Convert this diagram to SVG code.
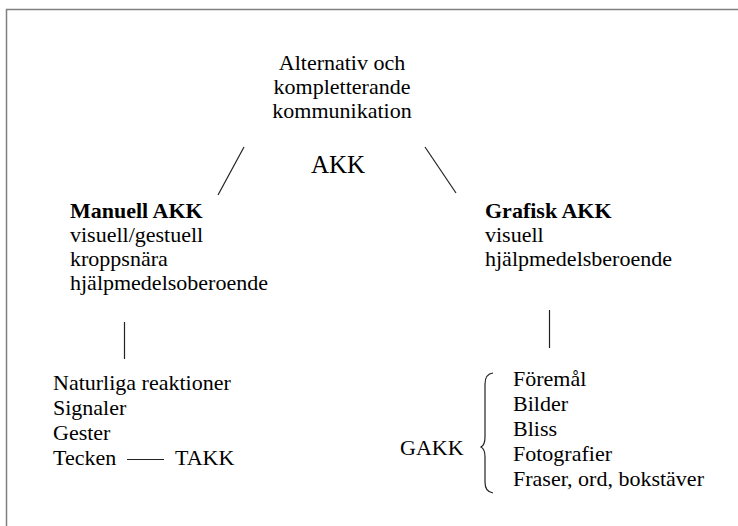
<svg xmlns="http://www.w3.org/2000/svg" width="738" height="526" viewBox="0 0 738 526">
<defs>
<style>
.l{stroke:#222;stroke-width:1.2;fill:none}
</style>
</defs>
<rect x="0" y="0" width="738" height="526" fill="#fff"/>
<path d="M6.5,526 V9.5 H738" fill="none" stroke="#808080" stroke-width="1.5"/>
<g id="akk">
<text style="font-family:'Liberation Serif';font-size:22px" x="342" y="70" text-anchor="middle">Alternativ och</text>
<text style="font-family:'Liberation Serif';font-size:22px" x="342" y="94" text-anchor="middle">kompletterande</text>
<text style="font-family:'Liberation Serif';font-size:22px" x="342" y="118" text-anchor="middle">kommunikation</text>
<text style="font-family:'Liberation Serif';font-size:25px" x="338" y="173" text-anchor="middle">AKK</text>
</g>
<g id="manuell">
<text style="font-family:'Liberation Serif';font-size:22px;font-weight:bold" x="70" y="218">Manuell AKK</text>
<text style="font-family:'Liberation Serif';font-size:22px" x="70" y="242">visuell/gestuell</text>
<text style="font-family:'Liberation Serif';font-size:22px" x="70" y="266">kroppsnära</text>
<text style="font-family:'Liberation Serif';font-size:22px" x="70" y="290">hjälpmedelsoberoende</text>
</g>
<g id="grafisk">
<text style="font-family:'Liberation Serif';font-size:22px;font-weight:bold" x="485" y="218">Grafisk AKK</text>
<text style="font-family:'Liberation Serif';font-size:22px" x="485" y="242">visuell</text>
<text style="font-family:'Liberation Serif';font-size:22px" x="485" y="266">hjälpmedelsberoende</text>
</g>
<g id="manuell-list">
<text style="font-family:'Liberation Serif';font-size:22px" x="53" y="390">Naturliga reaktioner</text>
<text style="font-family:'Liberation Serif';font-size:22px" x="53" y="415">Signaler</text>
<text style="font-family:'Liberation Serif';font-size:22px" x="53" y="440">Gester</text>
<text style="font-family:'Liberation Serif';font-size:22px" x="53" y="465">Tecken</text>
</g>
<g id="takk"><text style="font-family:'Liberation Serif';font-size:22px" x="175" y="465">TAKK</text></g>
<g id="grafisk-list">
<text style="font-family:'Liberation Serif';font-size:22px" x="513" y="386">Föremål</text>
<text style="font-family:'Liberation Serif';font-size:22px" x="513" y="411">Bilder</text>
<text style="font-family:'Liberation Serif';font-size:22px" x="513" y="436">Bliss</text>
<text style="font-family:'Liberation Serif';font-size:22px" x="513" y="461">Fotografier</text>
<text style="font-family:'Liberation Serif';font-size:22px" x="513" y="486">Fraser, ord, bokstäver</text>
</g>
<g id="gakk"><text style="font-family:'Liberation Serif';font-size:22px" x="400" y="455">GAKK</text></g>
<g id="connectors">
<line class="l" x1="244" y1="147" x2="218" y2="195"/>
<line class="l" x1="425" y1="147" x2="456" y2="193"/>
<line class="l" x1="124.5" y1="322" x2="124.5" y2="359"/>
<line class="l" x1="549.5" y1="310" x2="549.5" y2="348"/>
<line class="l" x1="127" y1="459.5" x2="164" y2="459.5"/>
<path class="l" d="M493,373 Q485,374 485,384 V437 Q485,445 481,447 Q485,449 485,457 V482 Q485,492 493,493"/>
</g>
</svg>
